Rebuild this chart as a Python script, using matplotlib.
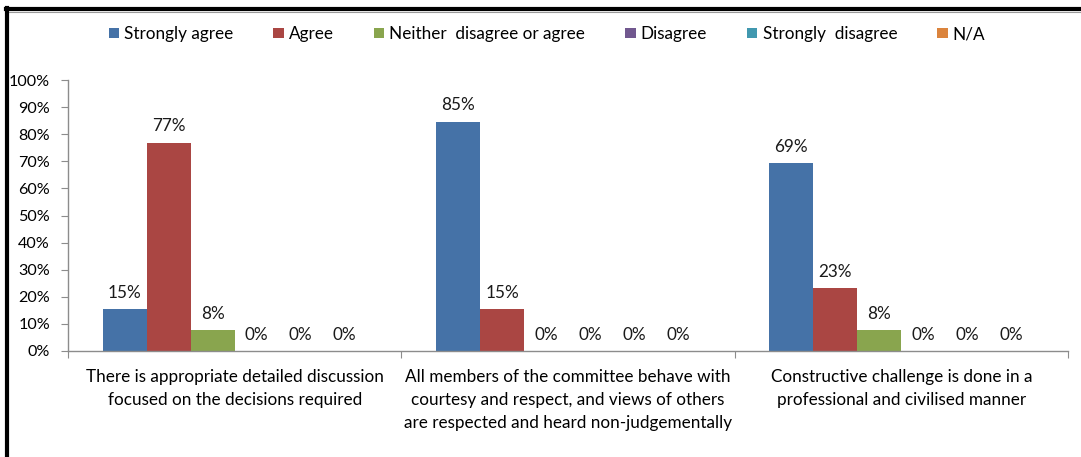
import numpy as np
import matplotlib.pyplot as plt
from matplotlib.lines import Line2D

# ────────────────────────────────────────────────────────────────
# DATA  (share of 13 responses per answer)
# ────────────────────────────────────────────────────────────────
categories = [
    "There is appropriate detailed discussion\nfocused on the decisions required",
    "All members of the committee behave with\ncourtesy and respect, and views of others\nare respected and heard non-judgementally",
    "Constructive challenge is done in a\nprofessional and civilised manner",
]
answers = ["Strongly agree", "Agree", "Neither  disagree or agree",
           "Disagree", "Strongly  disagree", "N/A"]

strongly_agree = [15.4, 84.6, 69.2]
agree = [76.9, 15.4, 23.1]
neither = [7.7, 0.0, 7.7]
disagree = [0.0, 0.0, 0.0]
strongly_disagree = [0.0, 0.0, 0.0]
not_applicable = [0.0, 0.0, 0.0]

series = [strongly_agree, agree, neither, disagree, strongly_disagree, not_applicable]
colors = ["#4572A7", "#AA4643", "#89A54E", "#71588F", "#4198AF", "#DB843D"]

# ────────────────────────────────────────────────────────────────
# PLOT
# ────────────────────────────────────────────────────────────────
plt.rcParams['font.family'] = ['Lato', 'DejaVu Sans']
FS = 12.3

fig = plt.figure(figsize=(10.81, 4.57), dpi=100)
ax = fig.add_axes([68 / 1081, 1 - 351 / 457, 1000 / 1081, 271 / 457])

x = np.arange(len(categories))
bar_w = 0.132
offsets = (np.arange(len(series)) - (len(series) - 1) / 2) * bar_w

handles = []
for vals, off, col, name in zip(series, offsets, colors, answers):
    bars = ax.bar(x + off, vals, width=bar_w, color=col, label=name)
    handles.append(bars)
    for b, v in zip(bars, vals):
        ax.annotate(f"{v:.0f}%", (b.get_x() + b.get_width() / 2, v),
                    xytext=(0, 6), textcoords="offset points",
                    ha="center", va="bottom", fontsize=FS, color="#1a1a1a")

ax.set_xlim(-0.5, len(categories) - 0.5)
ax.set_ylim(0, 100)
ax.set_yticks(np.arange(0, 101, 10))
ax.set_yticklabels([f"{t}%" for t in range(0, 101, 10)], fontsize=11.6)

# category labels centred, ticks on the category boundaries
ax.set_xticks(np.arange(-0.5, len(categories)), minor=False)
ax.set_xticklabels([""] * (len(categories) + 1))
ax.set_xticks(x, minor=True)
ax.set_xticklabels(categories, minor=True, fontsize=FS, linespacing=1.55)
ax.tick_params(axis="x", which="minor", length=0, pad=13)
ax.tick_params(axis="x", which="major", length=5, color="#8c8c8c")
ax.tick_params(axis="y", length=5, color="#8c8c8c", pad=8)

for side in ("top", "right"):
    ax.spines[side].set_visible(False)
for side in ("left", "bottom"):
    ax.spines[side].set_color("#8c8c8c")
    ax.spines[side].set_linewidth(1.0)

fig.legend(handles=handles, labels=answers, loc="center", ncol=6,
           bbox_to_anchor=(547 / 1081, 1 - 34 / 457), frameon=False,
           fontsize=FS, handlelength=0.6, handleheight=0.6,
           handletextpad=0.3, columnspacing=2.35)

# frame edges along the top and left of the figure
fig.add_artist(Line2D([6 / 1081, 1], [1 - 9 / 457, 1 - 9 / 457],
                      transform=fig.transFigure, color="black", linewidth=3.0))
fig.add_artist(Line2D([6 / 1081, 1], [1 - 11.5 / 457, 1 - 11.5 / 457],
                      transform=fig.transFigure, color="#9a9a9a", linewidth=0.8))
fig.add_artist(Line2D([7.5 / 1081, 7.5 / 1081], [0, 1 - 8 / 457],
                      transform=fig.transFigure, color="black", linewidth=3.0))

fig.savefig("out.png", dpi=100)
